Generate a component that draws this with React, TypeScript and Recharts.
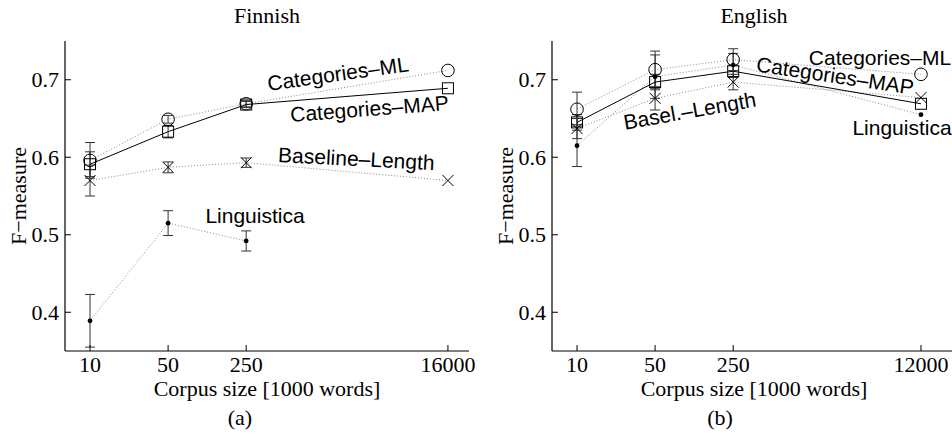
import React from 'react';
import { LineChart, Line, XAxis, YAxis, ErrorBar } from 'recharts';

// ---------- data ----------
const fiSizes = [10, 50, 250, 16000];
const enSizes = [10, 50, 250, 12000];
const yTicks = [0.4, 0.5, 0.6, 0.7];

const fiCatML = [0.596, 0.649, 0.669, 0.712];
const fiCatMLErr = [0.023, 0.005, 0.004, null];
const fiCatMAP = [0.591, 0.633, 0.668, 0.689];
const fiCatMAPErr = [0.016, 0.008, 0.004, null];
const fiBase = [0.57, 0.587, 0.593, 0.57];
const fiBaseErr = [0.02, 0.007, 0.006, null];
const fiLing = [0.389, 0.515, 0.492, null];
const fiLingErr = [0.034, 0.016, 0.013, null];

const enCatML = [0.662, 0.713, 0.726, 0.707];
const enCatMLErr = [0.022, 0.024, 0.014, null];
const enCatMAP = [0.645, 0.697, 0.711, 0.669];
const enCatMAPErr = [0.01, 0.01, 0.008, null];
const enBase = [0.637, 0.676, 0.697, 0.677];
const enBaseErr = [0.013, 0.015, 0.01, null];
const enLing = [0.615, 0.704, 0.719, 0.655];
const enLingErr = [0.027, 0.028, 0.015, null];

const SERIF = '"Liberation Serif", "Times New Roman", serif';
const SANS = '"Liberation Sans", Arial, Helvetica, sans-serif';
const SERIF_SIZE = 22;
const SANS_SIZE = 21;

const build = (xs: number[], ys: (number | null)[], es: (number | null)[]) =>
  xs
    .map((x, i) => ({ x, y: ys[i], e: es[i] }))
    .filter((d) => d.y !== null && d.y !== undefined);

// ---------- markers ----------
const circleDot = (p: any) =>
  p.cx == null || p.cy == null ? (
    <g key={`c${p.index}`} />
  ) : (
    <circle key={`c${p.index}`} cx={p.cx} cy={p.cy} r={6.3} fill="none" stroke="#000" strokeWidth={1} />
  );
const squareDot = (p: any) =>
  p.cx == null || p.cy == null ? (
    <g key={`s${p.index}`} />
  ) : (
    <rect key={`s${p.index}`} x={p.cx - 5.5} y={p.cy - 5.5} width={11} height={11} fill="none" stroke="#000" strokeWidth={1} />
  );
const crossDot = (p: any) =>
  p.cx == null || p.cy == null ? (
    <g key={`x${p.index}`} />
  ) : (
    <path
      key={`x${p.index}`}
      d={`M${p.cx - 5.5},${p.cy - 5.5}L${p.cx + 5.5},${p.cy + 5.5}M${p.cx - 5.5},${p.cy + 5.5}L${p.cx + 5.5},${p.cy - 5.5}`}
      stroke="#000"
      strokeWidth={1}
      fill="none"
    />
  );
const pointDot = (p: any) =>
  p.cx == null || p.cy == null ? (
    <g key={`p${p.index}`} />
  ) : (
    <circle key={`p${p.index}`} cx={p.cx} cy={p.cy} r={2.4} fill="#000" stroke="none" />
  );

// ---------- ticks (inward) ----------
const BottomTick = (p: any) => (
  <g>
    <line x1={p.x} y1={p.y} x2={p.x} y2={p.y - 6} stroke="#000" strokeWidth={1} />
    <text x={p.x} y={p.y + 20.5} textAnchor="middle" fontFamily={SERIF} fontSize={SERIF_SIZE} fill="#000">
      {p.payload.value}
    </text>
  </g>
);
const TopTick = (p: any) => (
  <line x1={p.x} y1={p.y} x2={p.x} y2={p.y + 6} stroke="#000" strokeWidth={1} />
);
const LeftTick = (p: any) => (
  <g>
    <line x1={p.x} y1={p.y} x2={p.x + 6} y2={p.y} stroke="#000" strokeWidth={1} />
    <text x={p.x - 6} y={p.y + 7.5} textAnchor="end" fontFamily={SERIF} fontSize={SERIF_SIZE} fill="#000">
      {Number(p.payload.value).toFixed(1)}
    </text>
  </g>
);
const RightTick = (p: any) => (
  <line x1={p.x} y1={p.y} x2={p.x - 6} y2={p.y} stroke="#000" strokeWidth={1} />
);

const DOT_STROKE = '#8a8a8a';
const DASH = '1 2';

type PanelProps = {
  sizes: number[];
  catML: any[];
  catMAP: any[];
  base: any[];
  ling: any[];
  yAxisWidth: number;
  rightMargin: number;
};

const Panel = ({ sizes, catML, catMAP, base, ling, yAxisWidth, rightMargin }: PanelProps) => (
  <LineChart width={480} height={436} margin={{ top: 41, right: rightMargin, bottom: 0, left: 0 }}>
    <XAxis
      xAxisId="b"
      dataKey="x"
      type="number"
      scale="log"
      domain={[5.97, 24700]}
      allowDataOverflow
      ticks={sizes}
      height={85}
      tickSize={0}
      tickMargin={0}
      tickLine={false}
      axisLine={{ stroke: '#000', strokeWidth: 1.2 }}
      tick={<BottomTick />}
      interval={0}
    />
    <XAxis
      xAxisId="t"
      orientation="top"
      dataKey="x"
      type="number"
      scale="log"
      domain={[5.97, 24700]}
      allowDataOverflow
      ticks={sizes}
      height={0}
      tickSize={0}
      tickMargin={0}
      tickLine={false}
      axisLine={{ stroke: '#000', strokeWidth: 1.2 }}
      tick={<TopTick />}
      interval={0}
    />
    <YAxis
      yAxisId="l"
      type="number"
      domain={[0.35, 0.75]}
      allowDataOverflow
      ticks={yTicks}
      width={yAxisWidth}
      tickSize={0}
      tickMargin={0}
      tickLine={false}
      axisLine={{ stroke: '#000', strokeWidth: 1.2 }}
      tick={<LeftTick />}
      interval={0}
    />
    <YAxis
      yAxisId="r"
      orientation="right"
      type="number"
      domain={[0.35, 0.75]}
      allowDataOverflow
      ticks={yTicks}
      width={0}
      tickSize={0}
      tickMargin={0}
      tickLine={false}
      axisLine={{ stroke: '#000', strokeWidth: 1.2 }}
      tick={<RightTick />}
      interval={0}
    />
    <Line
      xAxisId="b"
      yAxisId="l"
      data={ling}
      dataKey="y"
      stroke={DOT_STROKE}
      strokeDasharray={DASH}
      strokeWidth={1}
      dot={pointDot}
      activeDot={false}
      isAnimationActive={false}
    >
      <ErrorBar dataKey="e" direction="y" width={5} stroke="#333" strokeWidth={1} />
    </Line>
    <Line
      xAxisId="b"
      yAxisId="l"
      data={base}
      dataKey="y"
      stroke={DOT_STROKE}
      strokeDasharray={DASH}
      strokeWidth={1}
      dot={crossDot}
      activeDot={false}
      isAnimationActive={false}
    >
      <ErrorBar dataKey="e" direction="y" width={5} stroke="#333" strokeWidth={1} />
    </Line>
    <Line
      xAxisId="b"
      yAxisId="l"
      data={catML}
      dataKey="y"
      stroke={DOT_STROKE}
      strokeDasharray={DASH}
      strokeWidth={1}
      dot={circleDot}
      activeDot={false}
      isAnimationActive={false}
    >
      <ErrorBar dataKey="e" direction="y" width={5} stroke="#333" strokeWidth={1} />
    </Line>
    <Line
      xAxisId="b"
      yAxisId="l"
      data={catMAP}
      dataKey="y"
      stroke="#000"
      strokeWidth={1}
      dot={squareDot}
      activeDot={false}
      isAnimationActive={false}
    >
      <ErrorBar dataKey="e" direction="y" width={5} stroke="#333" strokeWidth={1} />
    </Line>
  </LineChart>
);

const Ann = ({ x, y, a, t }: { x: number; y: number; a: number; t: string }) => (
  <text
    x={x}
    y={y}
    textAnchor="middle"
    fontFamily={SANS}
    fontSize={SANS_SIZE}
    fill="#000"
    transform={`rotate(${a} ${x} ${y})`}
  >
    {t}
  </text>
);

const Serif = ({ x, y, t, rot }: { x: number; y: number; t: string; rot?: number }) => (
  <text
    x={x}
    y={y}
    textAnchor="middle"
    fontFamily={SERIF}
    fontSize={SERIF_SIZE}
    fill="#000"
    transform={rot ? `rotate(${rot} ${x} ${y})` : undefined}
  >
    {t}
  </text>
);

export default function App() {
  return (
    <div
      style={{
        position: 'absolute',
        left: 0,
        top: 0,
        width: 952,
        height: 436,
        overflow: 'hidden',
        background: '#fff',
      }}
    >
      <div style={{ position: 'absolute', left: 0, top: 0 }}>
        <Panel
          sizes={fiSizes}
          catML={build(fiSizes, fiCatML, fiCatMLErr)}
          catMAP={build(fiSizes, fiCatMAP, fiCatMAPErr)}
          base={build(fiSizes, fiBase, fiBaseErr)}
          ling={build(fiSizes, fiLing, fiLingErr)}
          yAxisWidth={65}
          rightMargin={11}
        />
      </div>
      <div style={{ position: 'absolute', left: 480, top: 0 }}>
        <Panel
          sizes={enSizes}
          catML={build(enSizes, enCatML, enCatMLErr)}
          catMAP={build(enSizes, enCatMAP, enCatMAPErr)}
          base={build(enSizes, enBase, enBaseErr)}
          ling={build(enSizes, enLing, enLingErr)}
          yAxisWidth={72}
          rightMargin={4}
        />
      </div>
      <svg
        width={952}
        height={436}
        style={{ position: 'absolute', left: 0, top: 0, pointerEvents: 'none' }}
      >
        {/* titles */}
        <Serif x={267} y={23} t="Finnish" />
        <Serif x={754} y={23} t="English" />
        {/* x labels */}
        <Serif x={267} y={396} t="Corpus size [1000 words]" />
        <Serif x={754} y={396} t="Corpus size [1000 words]" />
        {/* y labels */}
        <Serif x={26} y={196} t="F−measure" rot={-90} />
        <Serif x={513} y={196} t="F−measure" rot={-90} />
        {/* captions */}
        <Serif x={240} y={425} t="(a)" />
        <Serif x={720} y={425} t="(b)" />
        {/* annotations Finnish */}
        <Ann x={339} y={81} a={-8} t="Categories–ML" />
        <Ann x={370} y={116} a={-4.3} t="Categories–MAP" />
        <Ann x={356} y={166} a={3} t="Baseline–Length" />
        <Ann x={255} y={223} a={0} t="Linguistica" />
        {/* annotations English */}
        <Ann x={880} y={65} a={0} t="Categories–ML" />
        <Ann x={834} y={83} a={8.5} t="Categories–MAP" />
        <Ann x={691} y={118} a={-10} t="Basel.–Length" />
        <Ann x={902} y={135} a={0} t="Linguistica" />
      </svg>
    </div>
  );
}
